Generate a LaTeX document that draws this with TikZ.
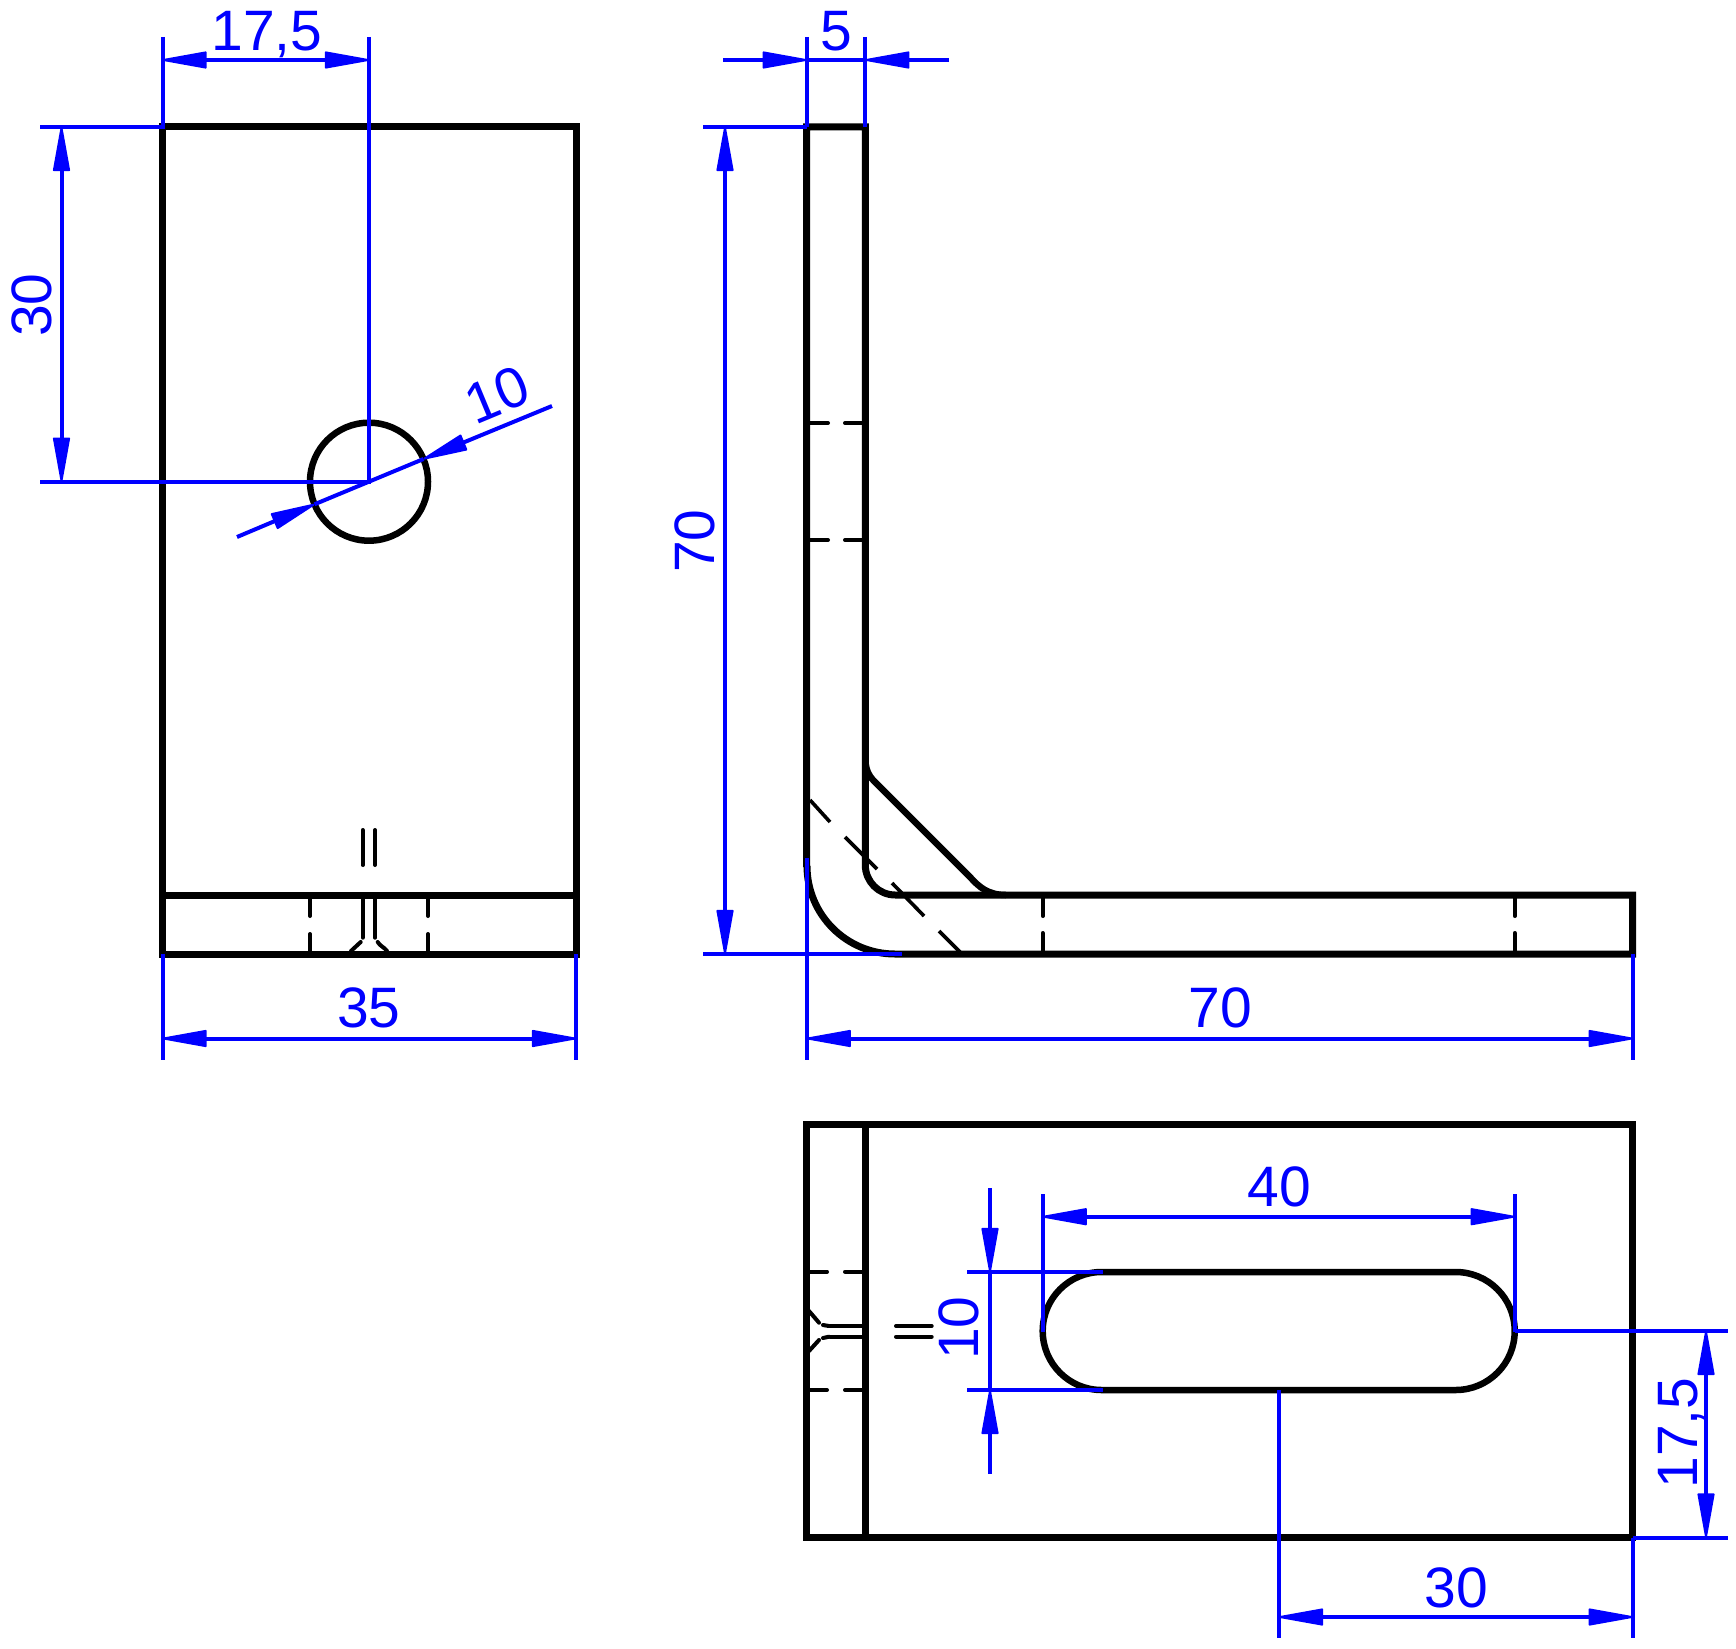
\documentclass[tikz,border=0pt]{standalone}
\usepackage{fontspec}
\setmainfont{Liberation Sans}
\usetikzlibrary{arrows.meta}
\definecolor{dimblue}{RGB}{0,0,255}
\tikzset{
  part/.style={draw=black,line width=7pt,line join=miter,line cap=butt},
  thinpart/.style={draw=black,line width=4pt,line cap=round},
  dimline/.style={draw=dimblue,line width=4pt},
  dimtip/.tip={Triangle[length=49pt,width=17pt,line width=2pt,round]},
  dimarrow/.style={dimline,{dimtip}-{dimtip}},
  endarrow/.style={dimline,-{dimtip}},
  dimtext/.style={text=dimblue,inner sep=0pt,text height=41pt,text depth=0pt,font=\fontsize{57}{60}\selectfont}
}
\begin{document}
\begin{tikzpicture}[x=1pt,y=-1pt]
\useasboundingbox (0,0) rectangle (1736,1648);
% ---------- left view
\coordinate (aTL) at (162.5,127); \coordinate (aTR) at (576,127);
\coordinate (aBL) at (162.5,954); \coordinate (aBR) at (576,954);
\coordinate (aIL) at (162.5,895); \coordinate (aIR) at (576,895);
\coordinate (hole) at (369,481.7);
\draw[part] (aTL) -- (aTR) -- (aBR) -- (aBL) -- cycle;
\draw[part] (aIL) -- (aIR);
\draw[part,line width=6.5pt] (hole) circle[radius=59];
\draw[thinpart] (362.7,830) -- (362.7,865) (375,830) -- (375,865);
\draw[thinpart] (362.7,895) -- (362.7,937.7) (375,895) -- (375,937.7);
\draw[thinpart] (360.7,942) -- (351,951) (377.7,942) .. controls (380,946) and (384,947) .. (387,951);
\draw[thinpart] (310,895) -- (310,916) (310,934) -- (310,954);
\draw[thinpart] (428,895) -- (428,916) (428,934) -- (428,954);
% ---------- side view
\coordinate (bTL) at (806.7,127); \coordinate (bTR) at (865.3,127);
\coordinate (bBR) at (1632.7,954); \coordinate (bIR) at (1632.7,895);
\draw[part] (806.7,867) -- (bTL) -- (bTR) -- (865.3,865)
  arc[start angle=180,end angle=90,radius=30] -- (bIR) -- (bBR) -- (895,954)
  arc[start angle=90,end angle=180,radius=88];
\draw[part,line width=6.5pt] (865.3,758) .. controls (865.3,768) and (868,775) .. (874,781)
  -- (970,877) .. controls (979,887) and (988,895) .. (1006,895);
\draw[thinpart,line width=3.6pt,line cap=butt] (810,800) -- (830,822) (845,837) -- (877,869) (892,883) -- (924,916) (939,931) -- (960,952);
\draw[thinpart] (1042.7,895) -- (1042.7,916) (1042.7,933) -- (1042.7,954);
\draw[thinpart] (1514.7,895) -- (1514.7,916) (1514.7,933) -- (1514.7,954);
\draw[thinpart] (806.7,423) -- (828,423) (845,423) -- (865.3,423);
\draw[thinpart] (806.7,540) -- (828,540) (845,540) -- (865.3,540);
% ---------- bottom view
\coordinate (cTL) at (806.7,1124); \coordinate (cTR) at (1632.7,1124);
\coordinate (cBL) at (806.7,1537.5); \coordinate (cBR) at (1632.7,1537.5);
\coordinate (cIT) at (865.3,1124); \coordinate (cIB) at (865.3,1537.5);
\draw[part] (cTL) -- (cTR) -- (cBR) -- (cBL) -- cycle;
\draw[part] (cIT) -- (cIB);
\draw[part,line width=6.5pt] (1101.7,1272) -- (1455.7,1272) arc[start angle=-90,end angle=90,radius=59]
  -- (1101.7,1390) arc[start angle=90,end angle=270,radius=59] -- cycle;
\draw[thinpart] (806.7,1271.7) -- (827,1271.7) (845,1271.7) -- (865.3,1271.7);
\draw[thinpart] (806.7,1390) -- (827,1390) (845,1390) -- (865.3,1390);
\draw[thinpart] (830,1326) -- (865.3,1326) (830,1336.7) -- (865.3,1336.7);
\draw[thinpart] (823,1325) -- (829,1326) (823,1338) -- (829,1336.7);
\draw[thinpart] (896,1326) -- (931.7,1326) (896,1336.7) -- (931.7,1336.7);
\draw[thinpart] (809,1311) -- (819,1322.7) (809,1351) -- (819,1340);
% ---------- dimensions: left view
\draw[dimline] (162.5,37) -- (aTL) -- (40,127);
\draw[dimline] (369,37) -- (hole) -- (40,481.7);
\draw[dimarrow] (162.5,60) -- (369,60);
\node[dimtext] (t175a) at (267,30) {17,5};
\draw[dimarrow] (61.5,127) -- (61.5,481.7);
\node[dimtext,rotate=90] (t30a) at (31,305) {30};
\coordinate (d10a) at (423.5,459); \coordinate (d10b) at (314.5,504.3);
\draw[endarrow] (552,406) -- (d10a);
\draw[endarrow] (237,537) -- (d10b);
\draw[dimline] (d10a) -- (d10b);
\node[dimtext,rotate=22.6] (t10a) at (497,394) {10};
\draw[dimline] (aBL) -- (162.5,1060) (aBR) -- (576,1060);
\draw[dimarrow] (162.5,1038.5) -- (576,1038.5);
\node[dimtext] (t35) at (369,1007) {35};
% ---------- dimensions: side view
\draw[dimline] (806.7,37) -- (bTL) (865.3,37) -- (bTR);
\draw[endarrow] (723,60) -- (806.7,60);
\draw[endarrow] (949,60) -- (865.3,60);
\draw[dimline] (806.7,60) -- (865.3,60);
\node[dimtext] (t5) at (836,30) {5};
\draw[dimline] (703,127) -- (bTL);
\draw[dimline] (703,954) -- (902,954);
\draw[dimarrow] (725,127) -- (725,954);
\node[dimtext,rotate=90] (t70a) at (694,541) {70};
\draw[dimline] (806.7,858) -- (806.7,1060) (1632.7,954) -- (1632.7,1060);
\draw[dimarrow] (806.7,1038.5) -- (1632.7,1038.5);
\node[dimtext] (t70b) at (1220,1007) {70};
% ---------- dimensions: bottom view
\draw[dimline] (1042.7,1194) -- (1042.7,1332) (1514.7,1194) -- (1514.7,1332);
\draw[dimarrow] (1042.7,1216.7) -- (1514.7,1216.7);
\node[dimtext] (t40) at (1279,1186) {40};
\draw[dimline] (967,1272) -- (1103,1272) (967,1390) -- (1103,1390);
\draw[endarrow] (990,1188) -- (990,1272);
\draw[endarrow] (990,1474) -- (990,1390);
\draw[dimline] (990,1272) -- (990,1390);
\node[dimtext,rotate=90] (t10b) at (958,1328) {10};
\draw[dimline] (1515,1331) -- (1728,1331) (1632.7,1537.5) -- (1728,1537.5);
\draw[dimarrow] (1706,1331) -- (1706,1537.5);
\node[dimtext,rotate=90] (t175b) at (1677,1433) {17,5};
\draw[dimline] (1279,1390) -- (1279,1638) (1632.7,1537.5) -- (1632.7,1638);
\draw[dimarrow] (1279,1617) -- (1632.7,1617);
\node[dimtext] (t30b) at (1456,1587) {30};
\end{tikzpicture}
\end{document}
